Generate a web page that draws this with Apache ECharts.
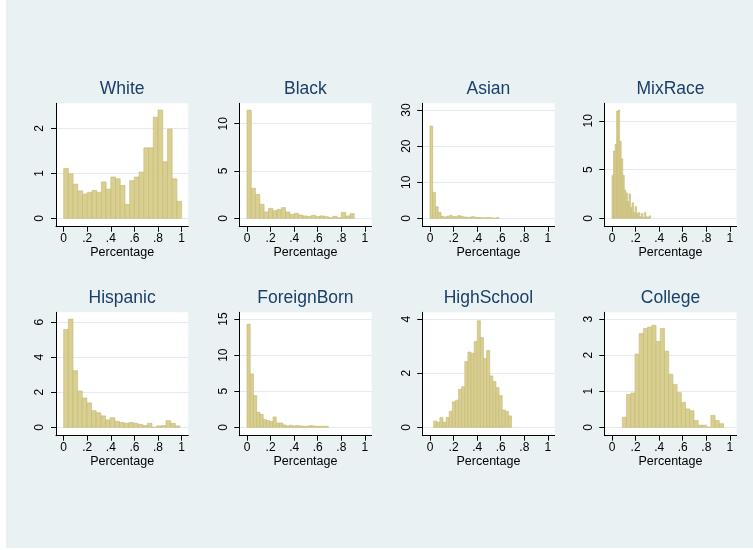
<!DOCTYPE html>
<html>
<head>
<meta charset="utf-8">
<script src="https://cdn.jsdelivr.net/npm/echarts@6/dist/echarts.min.js"></script>
<style>
html, body { margin: 0; padding: 0; background: #fff; }
#chart { width: 753px; height: 550px; }
</style>
</head>
<body>
<div id="chart"></div>
<script>
// panel titles
var names = ['White', 'Black', 'Asian', 'MixRace', 'Hispanic', 'ForeignBorn', 'HighSchool', 'College'];
// first bin start / last bin end of each histogram
var binStart = [0, 0, 0, 0, 0, 0, 0.031, 0.088];
var binEnd = [1, 0.91, 0.587, 0.327, 0.986, 0.69, 0.692, 0.946];

// densities
var white = [1.11, 0.99, 0.76, 0.61, 0.54, 0.58, 0.62, 0.58, 0.81, 0.65, 0.92, 0.88, 0.73, 0.31, 0.84, 0.92, 1.03, 1.57, 1.57, 2.25, 2.41, 1.26, 1.99, 0.88, 0.38];
var black = [11.44, 3.17, 2.53, 1.48, 0.67, 1.06, 0.81, 0.92, 1.13, 0.67, 0.42, 0.53, 0.35, 0.25, 0.21, 0.32, 0.18, 0.25, 0.18, 0.07, 0.21, 0.07, 0.63, 0.25, 0.49];
var asian = [25.6, 7.2, 3.2, 1.67, 0.55, 0.37, 0.55, 0.83, 0.46, 0.46, 0.74, 0.55, 0.37, 0.28, 0.28, 0.46, 0.28, 0.2, 0.2, 0.1, 0.2, 0.2, 0.1, 0, 0.2];
var mixRace = [4.4, 6.9, 7.6, 11.0, 11.1, 7.9, 6.1, 4.4, 2.9, 2.6, 1.7, 2.5, 1.1, 1.6, 0.6, 1.2, 0.5, 0.6, 0.15, 0.5, 0.1, 0.6, 0.15, 0.1, 0.25];
var hispanic = [5.58, 6.17, 3.23, 2.07, 1.67, 1.39, 0.95, 0.83, 0.65, 0.42, 0.55, 0.34, 0.27, 0.23, 0.27, 0.23, 0.17, 0.1, 0.23, 0, 0.08, 0.1, 0.38, 0.23, 0.08];
var foreignBorn = [14.3, 7.4, 4.4, 2.08, 1.8, 1.06, 0.93, 0.79, 1.43, 0.6, 0.6, 0.32, 0.19, 0.28, 0.19, 0.23, 0.19, 0.14, 0.14, 0.23, 0.19, 0.14, 0.14, 0.14, 0.14];
var highSchool = [0.23, 0.19, 0.36, 0.19, 0.36, 0.59, 0.94, 1.0, 1.4, 1.5, 2.43, 2.78, 2.74, 3.17, 3.94, 3.32, 2.54, 2.84, 1.9, 1.69, 1.47, 1.17, 0.64, 0.59, 0.42];
var college = [0.28, 0.91, 0.95, 2.03, 2.6, 2.74, 2.78, 2.83, 2.38, 2.74, 2.11, 1.47, 1.19, 0.96, 0.69, 0.51, 0.46, 0.19, 0.06, 0.06, 0, 0.33, 0.19, 0.1];
var heights = [white, black, asian, mixRace, hispanic, foreignBorn, highSchool, college];

var yTicks = [[0, 1, 2], [0, 5, 10], [0, 10, 20, 30], [0, 5, 10], [0, 2, 4, 6], [0, 5, 10, 15], [0, 2, 4], [0, 1, 2, 3]];
var xTicks = [0, 0.2, 0.4, 0.6, 0.8, 1];

// layout of the 2x4 grid (px)
var colLeft = [56, 239.3, 422.3, 604.3];
var rowTop = [103.3, 312.3];
var plotW = 132.3, plotH = 123.4;

var myChart = echarts.init(document.getElementById('chart'));

var fmtX = function (v) {
    if (v === 0) return '0';
    if (v === 1) return '1';
    return String(+v.toFixed(1)).replace(/^0/, '');
};

var grids = [], xAxes = [], yAxes = [], series = [];
// light graph region, with a thin white margin at the left and bottom
var texts = [{
    type: 'rect', z: -100, silent: true,
    shape: { x: 6, y: 0, width: 747, height: 548 },
    style: { fill: '#e9f1f3' }
}];
names.forEach(function (name, i) {
    var left = colLeft[i % 4], top = rowTop[Math.floor(i / 4)];
    var h = heights[i];
    var w = (binEnd[i] - binStart[i]) / h.length;
    var data = h.map(function (v, k) {
        return [binStart[i] + k * w, binStart[i] + (k + 1) * w, v];
    });
    var ticks = yTicks[i];
    var yMax = Math.max(Math.max.apply(null, h), ticks[ticks.length - 1]) * 1.063;

    grids.push({
        left: left, top: top, width: plotW, height: plotH,
        show: true, backgroundColor: '#fff', borderWidth: 0
    });
    xAxes.push({
        type: 'value', gridIndex: i, min: -0.065, max: 1.057,
        name: 'Percentage', nameLocation: 'middle', nameGap: 19,
        nameTextStyle: { color: '#000', fontSize: 12.5, fontFamily: 'Liberation Sans' },
        axisLine: { show: true, onZero: false, lineStyle: { color: '#000', width: 1 } },
        axisTick: { show: true, length: 5, customValues: xTicks, lineStyle: { color: '#000' } },
        axisLabel: { customValues: xTicks, formatter: fmtX, margin: 6, color: '#000', fontSize: 12, fontFamily: 'Liberation Sans' },
        splitLine: { show: false }
    });
    yAxes.push({
        type: 'value', gridIndex: i, min: -yMax * 0.073, max: yMax,
        axisLine: { show: true, onZero: false, lineStyle: { color: '#000', width: 1 } },
        axisTick: { show: true, length: 5, customValues: ticks, lineStyle: { color: '#000' } },
        axisLabel: { customValues: ticks, rotate: 90, margin: 10, color: '#000', fontSize: 12, fontFamily: 'Liberation Sans' },
        splitLine: { show: true, lineStyle: { color: '#e2ebee', width: 1 } }
    });
    series.push({
        type: 'custom', xAxisIndex: i, yAxisIndex: i,
        data: data,
        renderItem: function (params, api) {
            var p0 = api.coord([api.value(0), api.value(2)]);
            var p1 = api.coord([api.value(1), 0]);
            return {
                type: 'rect',
                shape: { x: p0[0], y: p0[1], width: p1[0] - p0[0], height: p1[1] - p0[1] },
                style: { fill: '#d8cf90', stroke: '#c5b975', lineWidth: 0.6 }
            };
        }
    });
    texts.push({
        type: 'text', x: left + plotW / 2, y: top - 14,
        style: { text: name, align: 'center', verticalAlign: 'middle', fill: '#1a3f6a', font: '17.5px "Liberation Sans"' }
    });
});

var option = {
    backgroundColor: '#fff',
    animation: false,
    grid: grids,
    xAxis: xAxes,
    yAxis: yAxes,
    series: series,
    graphic: texts
};

myChart.setOption(option);
</script>
</body>
</html>
